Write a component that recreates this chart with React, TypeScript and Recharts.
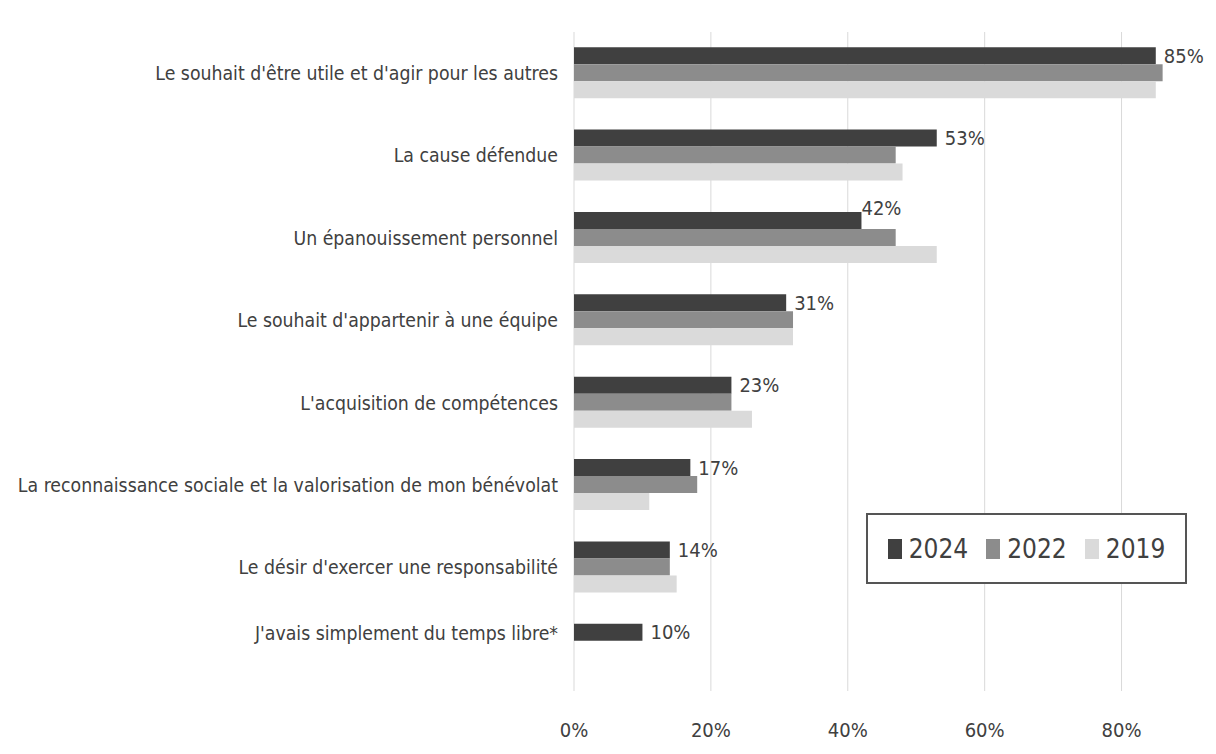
import { BarChart, Bar, XAxis, YAxis, CartesianGrid, LabelList } from "recharts";

const categories = [
  "Le souhait d'être utile et d'agir pour les autres",
  "La cause défendue",
  "Un épanouissement personnel",
  "Le souhait d'appartenir à une équipe",
  "L'acquisition de compétences",
  "La reconnaissance sociale et la valorisation de mon bénévolat",
  "Le désir d'exercer une responsabilité",
  "J'avais simplement du temps libre*",
];

const years = ["2024", "2022", "2019"];
const values2024 = [85, 53, 42, 31, 23, 17, 14, 10];
const values2022 = [86, 47, 47, 32, 23, 18, 14, null];
const values2019 = [85, 48, 53, 32, 26, 11, 15, null];
const xTicks = [0, 20, 40, 60, 80];

const colors = ["#404040", "#8c8c8c", "#dadada"];
const FONT = '"Liberation Sans Narrow", "Arial Narrow", "DejaVu Sans Condensed", sans-serif';
const TEXT = "#404040";

const data = categories.map((name, i) => ({
  name,
  y2024: values2024[i],
  y2022: values2022[i],
  y2019: values2019[i],
}));

function CategoryTick(props: any) {
  const { x, y, payload } = props;
  // single-bar rows: label sits on the lone bar
  const shift = values2022[payload.index] == null ? -17 : 0;
  return (
    <text x={x} y={y + shift} dy="0.355em" textAnchor="end" fill={TEXT} fontSize={19.3} fontFamily={FONT}>
      {payload.value}
    </text>
  );
}

function ValueLabel(props: any) {
  const { x, y, width, height, value, index } = props;
  const others = Math.max(values2022[index] ?? 0, values2019[index] ?? 0);
  const lifted = others > value + 3;
  const lx = x + width + (lifted ? 0 : 8);
  const ly = y + height / 2 + (lifted ? -13 : 0);
  return (
    <text x={lx} y={ly} dy="0.355em" fill={TEXT} fontSize={20} fontFamily={FONT}>
      {value}%
    </text>
  );
}

export default function App() {
  return (
    <div style={{ position: "absolute", left: 0, top: 0, width: 1216, height: 754, background: "#fff" }}>
      <BarChart
        width={1216}
        height={754}
        data={data}
        layout="vertical"
        margin={{ top: 32, right: 26, bottom: 13, left: 0 }}
        barCategoryGap="18.5%"
        barGap={0}
      >
        <CartesianGrid horizontal={false} stroke="#d9d9d9" verticalValues={xTicks} />
        <XAxis
          type="number"
          domain={[0, 90]}
          ticks={xTicks}
          tickFormatter={(v) => `${v}%`}
          axisLine={false}
          tickLine={false}
          tickSize={0}
          tickMargin={32}
          height={50}
          tick={{ fill: TEXT, fontSize: 20, fontFamily: FONT }}
        />
        <YAxis
          type="category"
          dataKey="name"
          width={574}
          axisLine={false}
          tickLine={false}
          tickSize={0}
          tickMargin={16}
          interval={0}
          tick={<CategoryTick />}
        />
        <Bar dataKey="y2024" name={years[0]} fill={colors[0]} isAnimationActive={false}>
          <LabelList dataKey="y2024" content={<ValueLabel />} />
        </Bar>
        <Bar dataKey="y2022" name={years[1]} fill={colors[1]} isAnimationActive={false} />
        <Bar dataKey="y2019" name={years[2]} fill={colors[2]} isAnimationActive={false} />
      </BarChart>
      <div
        style={{
          position: "absolute",
          left: 866,
          top: 513,
          width: 321,
          height: 71,
          boxSizing: "border-box",
          border: "2px solid #555",
          background: "#fff",
          display: "flex",
          alignItems: "center",
          justifyContent: "center",
          gap: 18,
          fontFamily: FONT,
          fontSize: 26,
          color: TEXT,
        }}
      >
        {years.map((yr, i) => (
          <div key={yr} style={{ display: "flex", alignItems: "center", gap: 7 }}>
            <span style={{ display: "inline-block", width: 14, height: 20, background: colors[i] }} />
            <span>{yr}</span>
          </div>
        ))}
      </div>
    </div>
  );
}
